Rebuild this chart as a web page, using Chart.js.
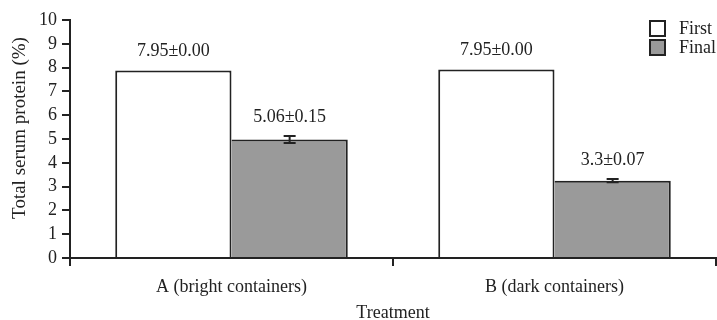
<!DOCTYPE html>
<html>
<head>
<meta charset="utf-8">
<script src="https://cdn.jsdelivr.net/npm/chart.js@4"></script>
<style>
  html, body { margin: 0; padding: 0; background: #fff; }
  #wrap { width: 717px; height: 320px; }
</style>
</head>
<body>
<div id="wrap"><canvas id="proteinChart"></canvas></div>
<script>
// values
const categories = ["A (bright containers)", "B (dark containers)"];
const firstValues = [7.88, 7.92];
const finalValues = [4.98, 3.25];
const firstErrors = [0, 0];
const finalErrors = [0.15, 0.07];
const firstLabels = ["7.95±0.00", "7.95±0.00"];
const finalLabels = ["5.06±0.15", "3.3±0.07"];
const yTicks = [0, 1, 2, 3, 4, 5, 6, 7, 8, 9, 10];
const yTitle = "Total serum protein (%)";

const ink = "#222";
const serif = "'Liberation Serif', 'Times New Roman', serif";
Chart.defaults.font.family = serif;
Chart.defaults.color = ink;

const errorBars = {
  id: "errorBars",
  afterDatasetsDraw(chart) {
    const { ctx } = chart;
    const y = chart.scales.y;
    ctx.save();
    ctx.strokeStyle = ink;
    ctx.lineWidth = 2;
    chart.data.datasets.forEach((ds, di) => {
      chart.getDatasetMeta(di).data.forEach((bar, i) => {
        const err = ds.errors[i];
        if (!err) return;
        const top = y.getPixelForValue(ds.data[i] + err);
        const bot = y.getPixelForValue(ds.data[i] - err);
        ctx.beginPath();
        ctx.moveTo(bar.x, top); ctx.lineTo(bar.x, bot);
        ctx.moveTo(bar.x - 6, top); ctx.lineTo(bar.x + 6, top);
        ctx.moveTo(bar.x - 6, bot); ctx.lineTo(bar.x + 6, bot);
        ctx.stroke();
      });
    });
    ctx.restore();
  }
};

const valueLabels = {
  id: "valueLabels",
  afterDatasetsDraw(chart) {
    const { ctx } = chart;
    const y = chart.scales.y;
    ctx.save();
    ctx.font = "18px " + serif;
    ctx.fillStyle = ink;
    ctx.textAlign = "center";
    ctx.textBaseline = "middle";
    chart.data.datasets.forEach((ds, di) => {
      chart.getDatasetMeta(di).data.forEach((bar, i) => {
        const top = y.getPixelForValue(ds.data[i] + ds.errors[i]);
        ctx.fillText(ds.valueText[i], bar.x, top - 19);
      });
    });
    ctx.restore();
  }
};

// y title sits a little above the middle of the plot in the original
const sideTitle = {
  id: "sideTitle",
  afterDraw(chart) {
    const { ctx, chartArea } = chart;
    ctx.save();
    ctx.translate(20, (chartArea.top + chartArea.bottom) / 2 - 11);
    ctx.rotate(-Math.PI / 2);
    ctx.font = "19px " + serif;
    ctx.fillStyle = ink;
    ctx.textAlign = "center";
    ctx.textBaseline = "middle";
    ctx.fillText(yTitle, 0, 0);
    ctx.restore();
  }
};

const boxLegend = {
  id: "boxLegend",
  afterDraw(chart) {
    const { ctx, chartArea } = chart;
    const x = chartArea.right - 66;
    ctx.save();
    ctx.font = "18px " + serif;
    ctx.textBaseline = "middle";
    ctx.lineWidth = 2;
    chart.data.datasets.forEach((ds, i) => {
      const top = chartArea.top + 1 + i * 19;
      ctx.fillStyle = ds.backgroundColor;
      ctx.fillRect(x, top, 15, 15);
      ctx.strokeStyle = ink;
      ctx.strokeRect(x, top, 15, 15);
      ctx.fillStyle = ink;
      ctx.fillText(ds.label, x + 29, top + 8);
    });
    ctx.restore();
  }
};

new Chart(document.getElementById("proteinChart"), {
  type: "bar",
  data: {
    labels: categories,
    datasets: [
      {
        label: "First",
        data: firstValues,
        errors: firstErrors,
        valueText: firstLabels,
        backgroundColor: "#ffffff",
        borderColor: ink,
        borderWidth: { top: 2, left: 2, right: 2, bottom: 0 },
        borderSkipped: false,
        categoryPercentage: 0.72,
        barPercentage: 1,
      },
      {
        label: "Final",
        data: finalValues,
        errors: finalErrors,
        valueText: finalLabels,
        backgroundColor: "#9a9a9a",
        borderColor: ink,
        borderWidth: { top: 2, left: 0, right: 2, bottom: 0 },
        borderSkipped: false,
        categoryPercentage: 0.72,
        barPercentage: 1,
      },
    ],
  },
  options: {
    responsive: true,
    maintainAspectRatio: false,
    animation: false,
    layout: { padding: { top: 20, right: 1, left: 0, bottom: 0 } },
    scales: {
      y: {
        min: 0,
        max: 10,
        afterBuildTicks: (scale) => {
          scale.ticks = yTicks.map((v) => ({ value: v }));
        },
        afterFit: (scale) => { scale.width = 70; },
        ticks: { font: { size: 18 }, padding: 5, color: ink, autoSkip: false },
        grid: { drawOnChartArea: false, tickLength: 8, color: ink, lineWidth: 2 },
        border: { display: true, color: ink, width: 2 },
      },
      x: {
        afterFit: (scale) => { scale.height = 62; },
        ticks: { font: { size: 18 }, padding: 10, color: ink, autoSkip: false },
        grid: { offset: true, drawOnChartArea: false, tickLength: 8, color: ink, lineWidth: 2 },
        border: { display: true, color: ink, width: 2 },
        title: {
          display: true,
          text: "Treatment",
          font: { size: 18, lineHeight: 0.7 },
          padding: { top: 0, bottom: 0 },
          color: ink,
        },
      },
    },
    plugins: {
      legend: { display: false },
      tooltip: { enabled: false },
    },
  },
  plugins: [errorBars, valueLabels, sideTitle, boxLegend],
});
</script>
</body>
</html>
